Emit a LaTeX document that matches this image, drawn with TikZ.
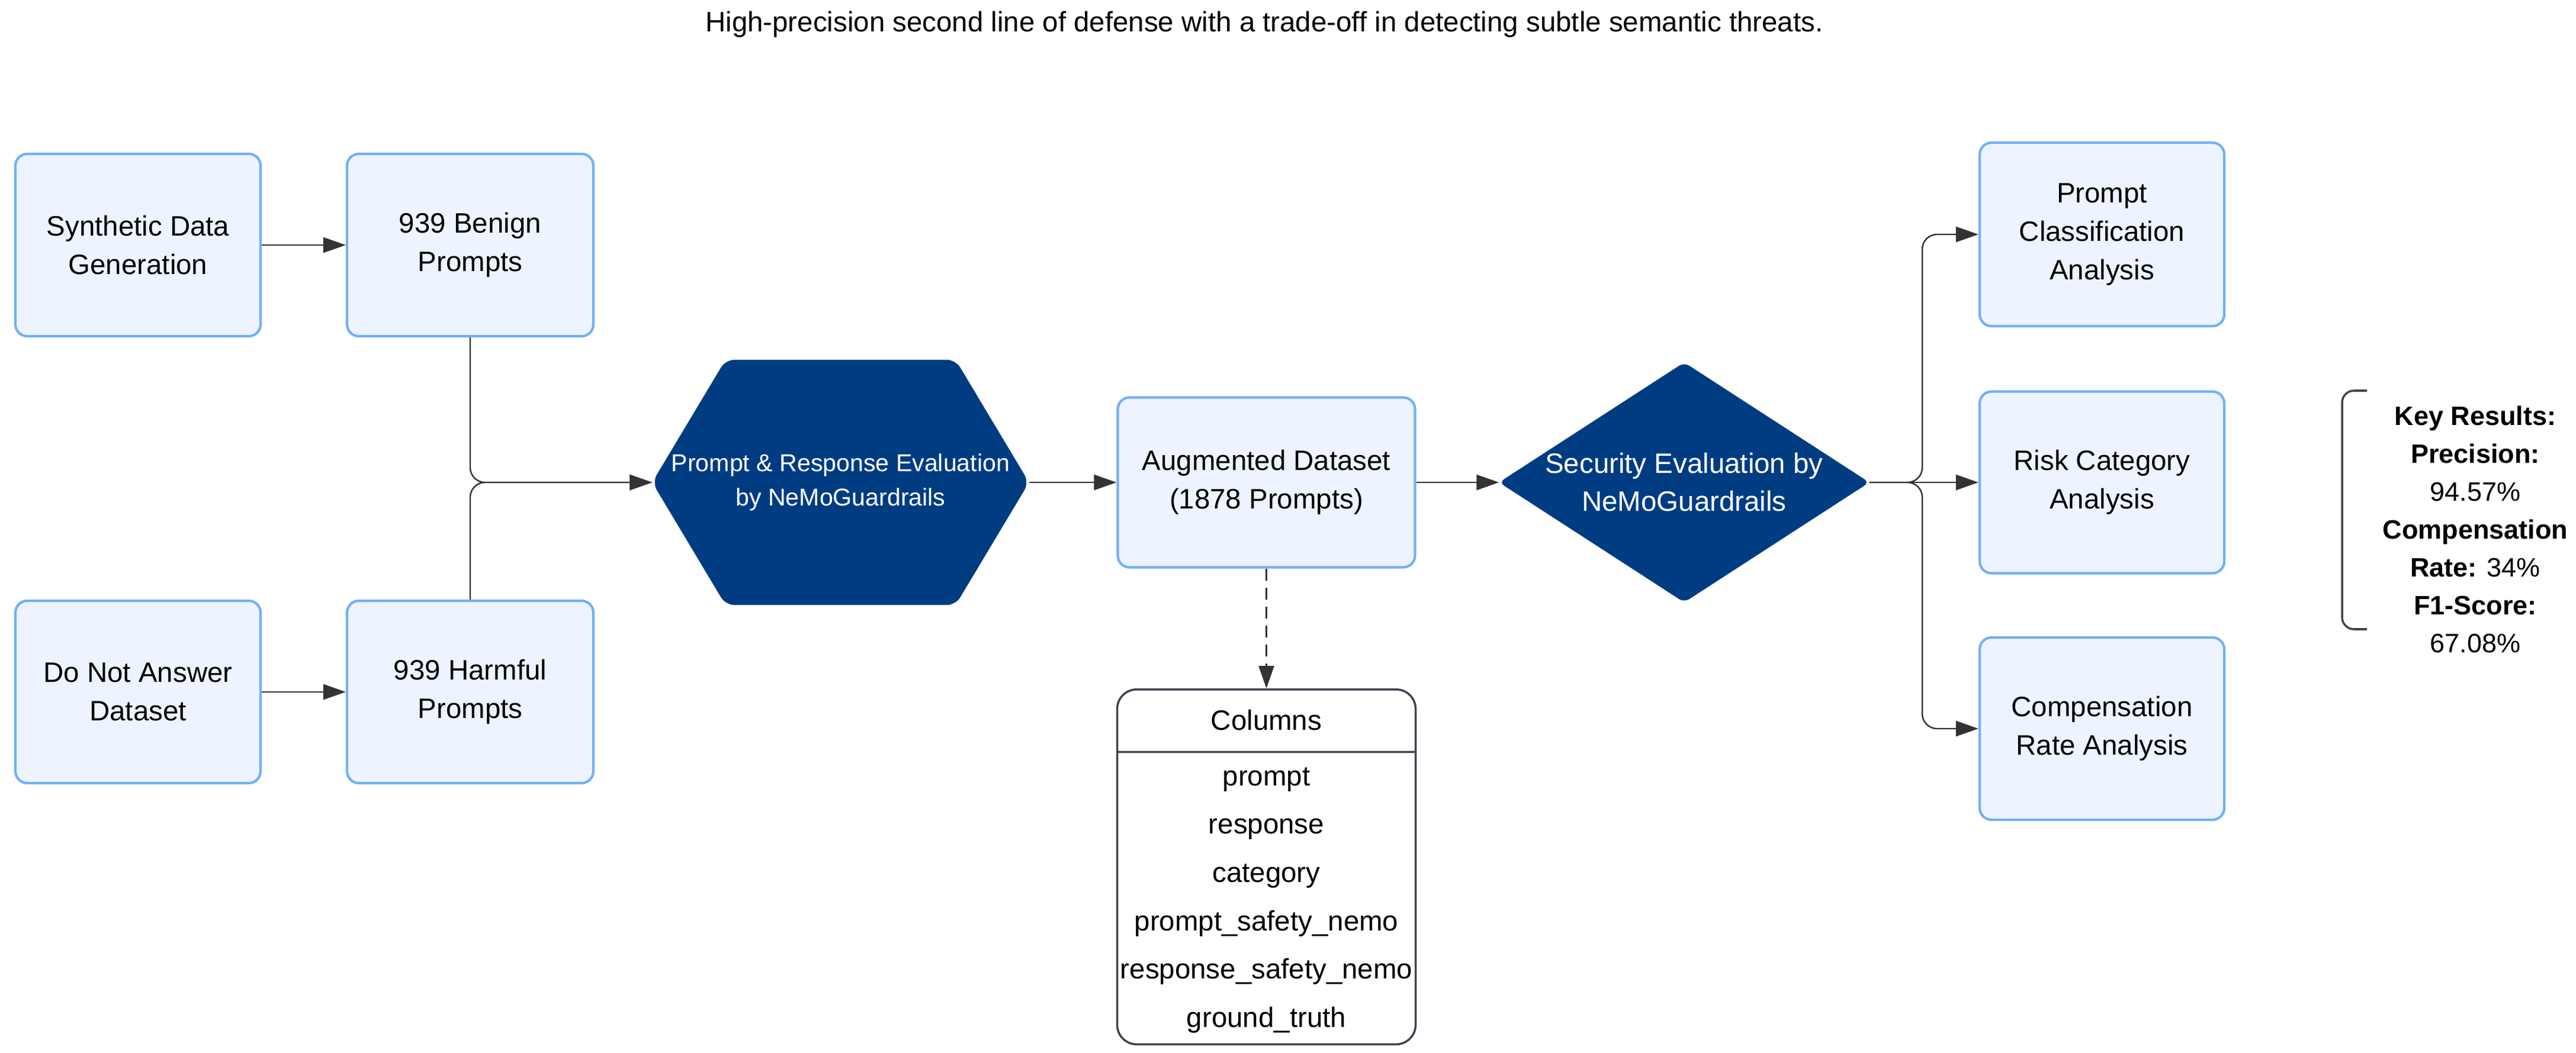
\documentclass[tikz,border=0pt]{standalone}
\usepackage{fontspec}
\setmainfont{Liberation Sans}
\usetikzlibrary{arrows.meta, positioning, shapes.multipart, backgrounds}

\definecolor{boxfill}{HTML}{EDF4FF}
\definecolor{boxline}{HTML}{70B0F8}
\definecolor{navy}{HTML}{003C82}
\definecolor{edge}{HTML}{333333}
\definecolor{tabline}{HTML}{3E4450}

\begin{document}
\begin{tikzpicture}[>={Triangle[length=0.38cm,width=0.26cm]},
  box/.style={draw=boxline, fill=boxfill, line width=1.2pt, rounded corners=0.2cm,
    minimum width=4.14cm, minimum height=3.08cm, align=center,
    font=\fontsize{13.5}{18.5}\selectfont},
  dark/.style={text=white, align=center, inner sep=0pt},
  flow/.style={->, draw=edge, line width=0.7pt, rounded corners=0.25cm}]
  \useasboundingbox (0,0) rectangle (43.5,-17.79);

  \node (title) at (21.35,-0.41) [font=\fontsize{13.5}{16}\selectfont]
    {High-precision second line of defense with a trade-off in detecting subtle semantic threats.};

  % sources
  \node (syn) at (2.33,-4.14) [box] {Synthetic Data\\Generation};
  \node (benign) at (7.94,-4.14) [box, minimum width=4.16cm] {939 Benign\\Prompts};
  \node (dna) at (2.33,-11.69) [box] {Do Not Answer\\Dataset};
  \node (harmful) at (7.94,-11.69) [box, minimum width=4.16cm] {939 Harmful\\Prompts};

  % evaluation stages
  \node (eval) at (14.195,-8.15) [dark, minimum width=6.35cm, minimum height=4.13cm,
    font=\fontsize{11.7}{16.5}\selectfont] {Prompt \& Response Evaluation\\by NeMoGuardrails};
  \node (aug) at (21.385,-8.15) [box, minimum width=5.02cm, minimum height=2.87cm]
    {Augmented Dataset\\(1878 Prompts)};
  \node (sec) at (28.44,-8.15) [dark, minimum width=6.24cm, minimum height=4.04cm,
    font=\fontsize{13.5}{18.2}\selectfont] {Security Evaluation by\\NeMoGuardrails};

  \begin{scope}[on background layer]
    \fill[navy, rounded corners=0.15cm] (eval.west) -- ([xshift=1.24cm]eval.north west)
      -- ([xshift=-1.24cm]eval.north east) -- (eval.east)
      -- ([xshift=-1.24cm]eval.south east) -- ([xshift=1.24cm]eval.south west) -- cycle;
    \fill[navy, rounded corners=0.1cm] (sec.west) -- (sec.north) -- (sec.east) -- (sec.south) -- cycle;
  \end{scope}

  % columns table
  \node (cols) at (21.385,-11.63) [anchor=north, draw=tabline, line width=1pt,
    rounded corners=0.33cm, rectangle split, rectangle split parts=2,
    rectangle split part align=center, minimum width=5.04cm, inner xsep=0.05cm,
    inner ysep=0pt, align=center, font=\fontsize{13.5}{23.25}\selectfont]
    {\rule[-0.355cm]{0pt}{1.02cm}Columns
     \nodepart{two}\rule{0pt}{0.55cm}prompt\\ response\\ category\\ prompt\_safety\_nemo\\
     response\_safety\_nemo\\ ground\_truth\rule[-0.27cm]{0pt}{0pt}};

  % analyses
  \node (pca) at (35.495,-3.96) [box, minimum width=4.13cm, minimum height=3.10cm]
    {Prompt\\Classification\\Analysis};
  \node (rca) at (35.495,-8.15) [box, minimum width=4.13cm, minimum height=3.07cm]
    {Risk Category\\Analysis};
  \node (cra) at (35.495,-12.31) [box, minimum width=4.13cm, minimum height=3.08cm]
    {Compensation\\Rate Analysis};
  \coordinate (fork) at (32.46,-8.15);

  % results
  \node (keyres) at (41.80,-8.945) [align=center, font=\fontsize{12.8}{18.2}\selectfont]
    {\textbf{Key Results:}\\ \textbf{Precision:}\\ 94.57\%\\ \textbf{Compensation}\\
     \textbf{Rate:} 34\%\\ \textbf{F1-Score:}\\ 67.08\%};
  \draw [tabline, line width=1pt, rounded corners=0.2cm]
    (39.97,-6.60) -- (39.55,-6.60) -- (39.55,-10.63) -- (39.97,-10.63);

  \draw [flow] (syn) -- (benign);
  \draw [flow] (dna) -- (harmful);
  \draw [flow] (benign.south) |- (eval.west);
  \draw [flow] (harmful.north) |- (eval.west);
  \draw [flow] (eval) -- (aug);
  \draw [flow, dash pattern=on 0.2cm off 0.12cm] (aug) -- (cols);
  \draw [flow] (aug) -- (sec);
  \draw [flow] (sec.east) -- (fork) |- (pca.west);
  \draw [flow] (sec.east) -- (rca.west);
  \draw [flow] (sec.east) -- (fork) |- (cra.west);
\end{tikzpicture}
\end{document}
